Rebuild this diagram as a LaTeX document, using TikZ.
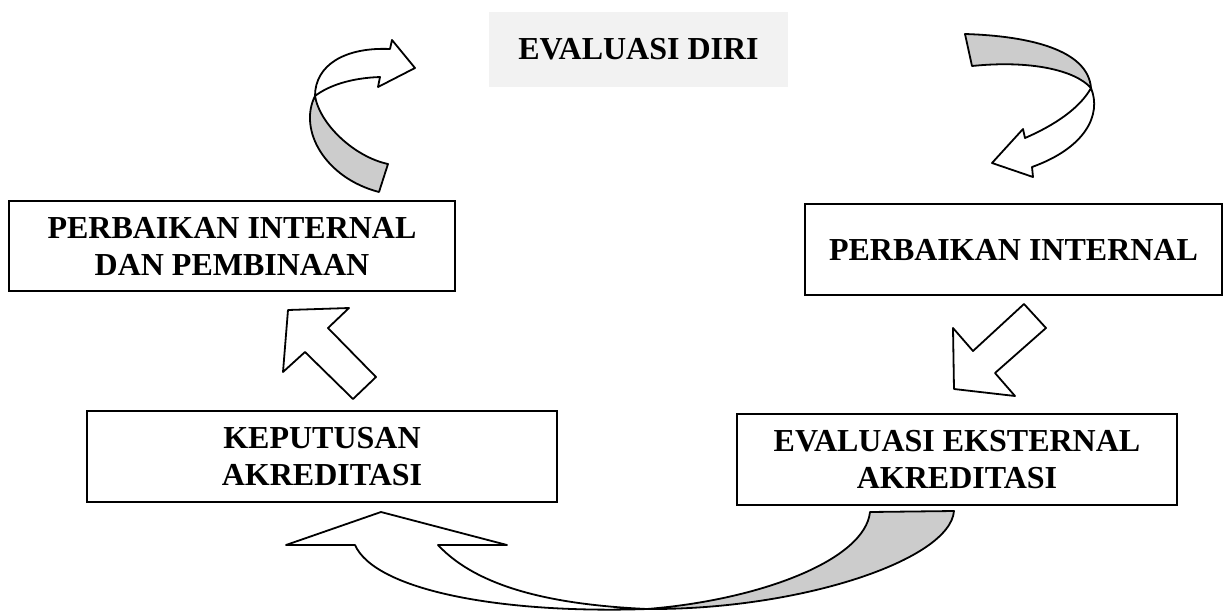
\documentclass[tikz,border=0pt]{standalone}
\usepackage{fontspec}
\setmainfont{Liberation Serif}
\definecolor{bandgray}{HTML}{CCCCCC}
\definecolor{lightbg}{HTML}{F2F2F2}
\begin{document}
\begin{tikzpicture}[x=0.5pt,y=-0.5pt,
  box/.style={draw,line width=1.1pt,align=center,inner sep=0pt,
    font=\fontsize{16}{18.5}\selectfont\bfseries},
  titlebox/.style={fill=lightbg,align=center,inner sep=0pt,
    font=\fontsize{16}{18.5}\selectfont\bfseries},
  band/.style={draw,line width=0.9pt,line join=round,fill=white},
  backband/.style={draw,line width=0.9pt,line join=round,fill=bandgray}]
\useasboundingbox (0,0) rectangle (1228,612);

% boxes
\node[titlebox, minimum width=149.5pt, minimum height=37.5pt] (ed) at (638.5,49.5) {EVALUASI DIRI};
\node[box, minimum width=223pt, minimum height=45pt] (pil) at (232,246) {PERBAIKAN INTERNAL\\DAN PEMBINAAN};
\node[box, minimum width=208.5pt, minimum height=45.5pt] (pi) at (1013.5,249.5) {PERBAIKAN INTERNAL};
\node[box, minimum width=235pt, minimum height=45.5pt] (ka) at (322,456.5) {KEPUTUSAN\\AKREDITASI};
\node[box, minimum width=220pt, minimum height=45.5pt] (eea) at (957,459.5) {EVALUASI EKSTERNAL\\AKREDITASI};

% top-left curved arrow
\draw[backband] (379,192) .. controls (325,178) and (298,130) .. (315,96)
  .. controls (320,125) and (355,157) .. (388,164) -- cycle;
\draw[band] (315,96) .. controls (315,65) and (345,47) .. (390,49) -- (392,40) -- (415,68)
  -- (378,87) -- (380,77) .. controls (350,78) and (328,86) .. (315,96) -- cycle;

% top-right curved arrow
\draw[backband] (965,34) .. controls (1030,36) and (1088,50) .. (1091,88)
  .. controls (1075,70) and (1030,60) .. (972,66) -- cycle;
\draw[band] (1091,88) .. controls (1102,115) and (1085,148) .. (1032,167) -- (1033,177)
  -- (992,163) -- (1023,129) -- (1025,138) .. controls (1055,125) and (1080,108) .. (1091,88) -- cycle;

% down-left straight arrow
\draw[band] (1024,304) -- (973,351) -- (953,328) -- (954,389) -- (1015,396) -- (995,373) -- (1046,328) -- cycle;

% up-left straight arrow
\draw[band] (288,310) -- (349,308) -- (328,328) -- (376,377) -- (353,399) -- (305,352) -- (283,372) -- cycle;

% bottom curved arrow
\draw[backband] (647,609) .. controls (760,600) and (865,560) .. (870,512) -- (954,511)
  .. controls (950,560) and (800,610) .. (647,609) -- cycle;
\draw[band] (647,609) .. controls (500,614) and (375,590) .. (355,545) -- (286,545) -- (381,512)
  -- (507,545) -- (438,545) .. controls (480,590) and (560,605) .. (647,609) -- cycle;
\end{tikzpicture}
\end{document}
